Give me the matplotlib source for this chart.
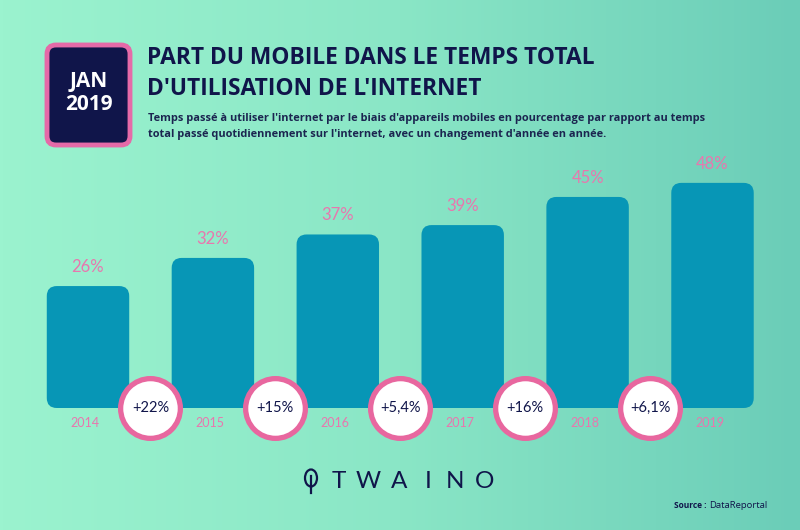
import numpy as np
import matplotlib.pyplot as plt
from matplotlib.patches import FancyBboxPatch, Ellipse
from matplotlib.colors import LinearSegmentedColormap

# Data
years = ['2014', '2015', '2016', '2017', '2018', '2019']
share = [26, 32, 37, 39, 45, 48]
share_labels = ['26%', '32%', '37%', '39%', '45%', '48%']
growth_labels = ['+22%', '+15%', '+5,4%', '+16%', '+6,1%']

# Colours
navy = '#10154a'
pink = '#e8679f'
pink_text = '#e877ae'
bar_color = '#0796b6'

fig = plt.figure(figsize=(8, 5.3), dpi=100)

# gradient background
bg = fig.add_axes([0, 0, 1, 1])
cmap = LinearSegmentedColormap.from_list('bg', ['#9bf3cf', '#8ae6c6', '#6bcdb8'])
bg.imshow(np.linspace(0, 1, 256).reshape(1, -1), aspect='auto', cmap=cmap,
          extent=[0, 800, 530, 0])
bg.set_xlim(0, 800)
bg.set_ylim(530, 0)
bg.axis('off')

# JAN 2019 badge
badge = FancyBboxPatch((47, 45), 83, 100, boxstyle='round,pad=0,rounding_size=9',
                       facecolor=navy, edgecolor='#e56aa8', linewidth=3.5)
bg.add_patch(badge)
bg.text(88.5, 81, 'JAN', color='white', fontsize=15, fontweight='bold',
        family='Open Sans', ha='center', va='center')
bg.text(88.5, 104, '2019', color='white', fontsize=15, fontweight='bold',
        family='Open Sans', ha='center', va='center')

# Titles
bg.text(147, 58, 'PART DU MOBILE DANS LE TEMPS TOTAL', color=navy, fontsize=16.4,
        fontweight='bold', family='Open Sans', ha='left', va='center')
bg.text(147, 89, "D'UTILISATION DE L'INTERNET", color=navy, fontsize=16.4,
        fontweight='bold', family='Open Sans', ha='left', va='center')
bg.text(148, 118, "Temps passé à utiliser l'internet par le biais d'appareils mobiles en pourcentage par rapport au temps",
        color='#1b2550', fontsize=7.95, fontweight='bold', family='Open Sans', ha='left', va='center')
bg.text(148, 134, "total passé quotidiennement sur l'internet, avec un changement d'année en année.",
        color='#1b2550', fontsize=7.95, fontweight='bold', family='Open Sans', ha='left', va='center')

# TWAINO logo
bg.add_patch(Ellipse((311, 478), 12, 17, facecolor='none', edgecolor=navy, linewidth=1.6))
bg.plot([311, 311], [476, 493], color=navy, linewidth=1.6)
for letter, xpos in zip('TWAINO', [339, 368, 399, 428, 455, 485]):
    bg.text(xpos, 482, letter, color=navy, fontsize=17.5,
            family='Lato', ha='center', va='center')

# Source
bg.text(706, 505, 'Source :', color=navy, fontsize=6, fontweight='bold',
        family='Open Sans', ha='right', va='center')
bg.text(709, 505, 'DataReportal', color=navy, fontsize=6.8,
        family='Open Sans', ha='left', va='center')

# Chart axes: y=0 at 408 px, x centers every ~125 px starting at 88 px
px_per_unit_y = 4.69
px_per_unit_x = 124.9
ymax = 55
ax_h = ymax * px_per_unit_y
ax = fig.add_axes([(88 - px_per_unit_x / 2) / 800, (530 - 408) / 530,
                   6 * px_per_unit_x / 800, ax_h / 530])
ax.set_xlim(-0.5, 5.5)
ax.set_ylim(0, ymax)
ax.axis('off')

bar_w = 0.66
aspect = px_per_unit_x / px_per_unit_y
for i, (v, lab, yr) in enumerate(zip(share, share_labels, years)):
    ax.add_patch(FancyBboxPatch((i - bar_w / 2, 0), bar_w, v,
                                boxstyle='round,pad=0,rounding_size=0.08',
                                mutation_aspect=aspect, facecolor=bar_color,
                                edgecolor='none'))
    ax.annotate(lab, (i, v), xytext=(0, 19), textcoords='offset pixels',
                ha='center', va='center', color=pink_text, fontsize=12,
                family='Lato')
    ax.annotate(yr, (i, 0), xytext=(-3, -15), textcoords='offset pixels',
                ha='center', va='center', color=pink_text, fontsize=9,
                family='Lato', annotation_clip=False)

# growth circles between bars
cx = np.arange(len(growth_labels)) + 0.5
ax.scatter(cx, np.zeros(len(cx)), s=1850, facecolor='white', edgecolor=pink,
           linewidth=3.8, clip_on=False, zorder=5)
for x, g in zip(cx, growth_labels):
    ax.annotate(g, (x, 0), xytext=(0, 0), textcoords='offset pixels',
                ha='center', va='center', color=navy, fontsize=10.5,
                family='Lato', zorder=6, annotation_clip=False)

fig.savefig('out.png', dpi=100)
